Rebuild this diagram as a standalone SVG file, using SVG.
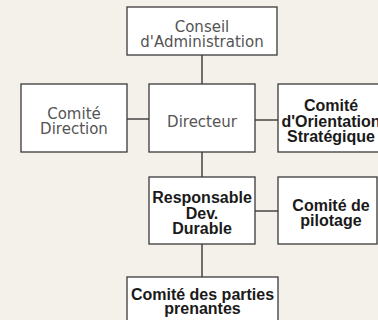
<svg xmlns="http://www.w3.org/2000/svg" width="378" height="320" viewBox="0 0 378 320">
<style>
.box{fill:#ffffff;stroke:#3a3a3a;stroke-width:1.3}
.line{stroke:#2a2a2a;stroke-width:1.3;fill:none}
.reg{font-family:"DejaVu Sans",sans-serif;font-size:15px;fill:#555555;text-anchor:middle}
.bold{font-family:"Liberation Sans",Arial,sans-serif;font-size:16px;font-weight:bold;fill:#1a1a1a;text-anchor:middle}
</style>
<rect width="378" height="320" fill="#f4f1eb"/>
<g id="connectors">
<line class="line" x1="202" y1="55" x2="202" y2="84"/>
<line class="line" x1="202" y1="152" x2="202" y2="177"/>
<line class="line" x1="202" y1="244" x2="202" y2="277"/>
<line class="line" x1="127" y1="119" x2="149" y2="119"/>
<line class="line" x1="255" y1="120" x2="278" y2="120"/>
<line class="line" x1="255" y1="211" x2="278" y2="211"/>
</g>
<g id="conseil">
<rect class="box" x="127" y="7" width="150" height="48"/>
<text class="reg" x="202" y="32">Conseil</text>
<text class="reg" x="202" y="47">d'Administration</text>
</g>
<g id="comite-direction">
<rect class="box" x="21" y="84" width="106" height="68"/>
<text class="reg" x="74" y="119">Comité</text>
<text class="reg" x="74" y="134">Direction</text>
</g>
<g id="directeur">
<rect class="box" x="149" y="84" width="106" height="68"/>
<text class="reg" x="202" y="127">Directeur</text>
</g>
<g id="comite-orientation">
<rect class="box" x="278" y="84" width="106" height="68"/>
<text class="bold" x="331" y="111">Comité</text>
<text class="bold" x="331" y="126.5">d'Orientation</text>
<text class="bold" x="331" y="142">Stratégique</text>
</g>
<g id="responsable">
<rect class="box" x="149" y="177" width="106" height="67"/>
<text class="bold" x="202" y="203">Responsable</text>
<text class="bold" x="202" y="218.5">Dev.</text>
<text class="bold" x="202" y="234">Durable</text>
</g>
<g id="comite-pilotage">
<rect class="box" x="278" y="177" width="99" height="67"/>
<text class="bold" x="331" y="211">Comité de</text>
<text class="bold" x="331" y="226">pilotage</text>
</g>
<g id="comite-parties">
<rect class="box" x="127" y="277" width="151" height="60"/>
<text class="bold" x="202.5" y="300">Comité des parties</text>
<text class="bold" x="202.5" y="314">prenantes</text>
</g>
</svg>
